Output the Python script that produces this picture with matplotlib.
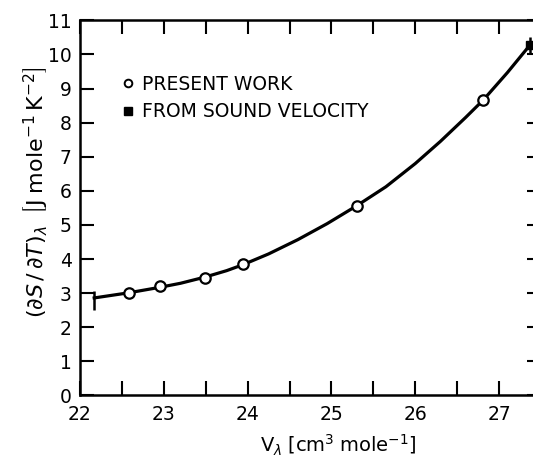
import numpy as np
import matplotlib
matplotlib.use("Agg")
import matplotlib.pyplot as plt
from matplotlib.ticker import MultipleLocator, FuncFormatter

# measured points (open circles)
v_present = [22.58, 22.95, 23.49, 23.94, 25.30, 26.81]
s_present = [3.00, 3.20, 3.44, 3.85, 5.56, 8.66]

# value from sound velocity (filled square) and its error
v_sound = [27.37]
s_sound = [10.27]
s_sound_err = [0.25]

# smooth curve drawn through the data
curve_v = [22.17, 22.58, 22.95, 23.20, 23.49, 23.75, 23.94, 24.25, 24.60,
           24.95, 25.30, 25.65, 26.00, 26.30, 26.60, 26.81, 27.10, 27.37]
curve_s = [2.86, 3.01, 3.17, 3.29, 3.47, 3.66, 3.83, 4.15, 4.57,
           5.04, 5.56, 6.12, 6.80, 7.45, 8.15, 8.66, 9.47, 10.28]

# end of the curve with its uncertainty bar
v_end = [22.17]
s_end = [2.80]
s_end_err = [[0.30], [0.25]]

plt.rcParams['font.family'] = ['DejaVu Sans']
plt.rcParams['mathtext.fontset'] = 'dejavusans'

fig = plt.figure(figsize=(5.33, 4.62), dpi=100)
ax = fig.add_axes([0.150, 0.144, 0.865, 0.812])

ax.plot(curve_v, curve_s, color='black', lw=2.3, solid_joinstyle='round', zorder=2)
ax.errorbar(v_end, s_end, yerr=s_end_err, fmt='none', ecolor='black',
            elinewidth=1.8, capsize=0, zorder=2)
ax.errorbar(v_sound, s_sound, yerr=s_sound_err, fmt='s', color='black',
            ms=6, elinewidth=1.8, capsize=0, zorder=3)
ax.plot(v_present, s_present, 'o', ms=7.5, mfc='white', mec='black',
        mew=1.6, zorder=4)

# legend entries
h1, = ax.plot([], [], 'o', ms=5.5, mfc='white', mec='black', mew=1.4)
h2, = ax.plot([], [], 's', ms=5.5, color='black')
ax.legend([h1, h2], ['PRESENT WORK', 'FROM SOUND VELOCITY'],
          loc='upper left', bbox_to_anchor=(0.075, 0.875), frameon=False,
          handlelength=0.6, handletextpad=0.45, labelspacing=0.45,
          fontsize=13.5, borderaxespad=0)

ax.set_xlim(22, 27.5)
ax.set_ylim(0, 11)

ax.xaxis.set_major_locator(MultipleLocator(0.5))
ax.xaxis.set_major_formatter(FuncFormatter(
    lambda x, pos: '%d' % round(x) if abs(x - round(x)) < 1e-6 else ''))
ax.yaxis.set_major_locator(MultipleLocator(1))
ax.yaxis.set_major_formatter(FuncFormatter(lambda y, pos: '%d' % round(y)))

ax.tick_params(axis='both', direction='in', length=10, width=1.5,
               labelsize=13.5, top=True, right=True)
ax.tick_params(axis='x', pad=7)
ax.tick_params(axis='y', pad=6)

for sp in ax.spines.values():
    sp.set_linewidth(1.8)

fig.text(0.066, 0.585,
         r'$(\partial S\,/\,\partial T)_{\lambda}\;\;\left[\mathrm{J\;mole^{-1}\,K^{-2}}\right]$',
         rotation=90, ha='center', va='center', fontsize=16)
fig.text(0.634, 0.037,
         r'$\mathrm{V}_{\lambda}\;\left[\mathrm{cm^{3}\;mole^{-1}}\right]$',
         ha='center', va='center', fontsize=14)

fig.savefig('out.png', dpi=100)
